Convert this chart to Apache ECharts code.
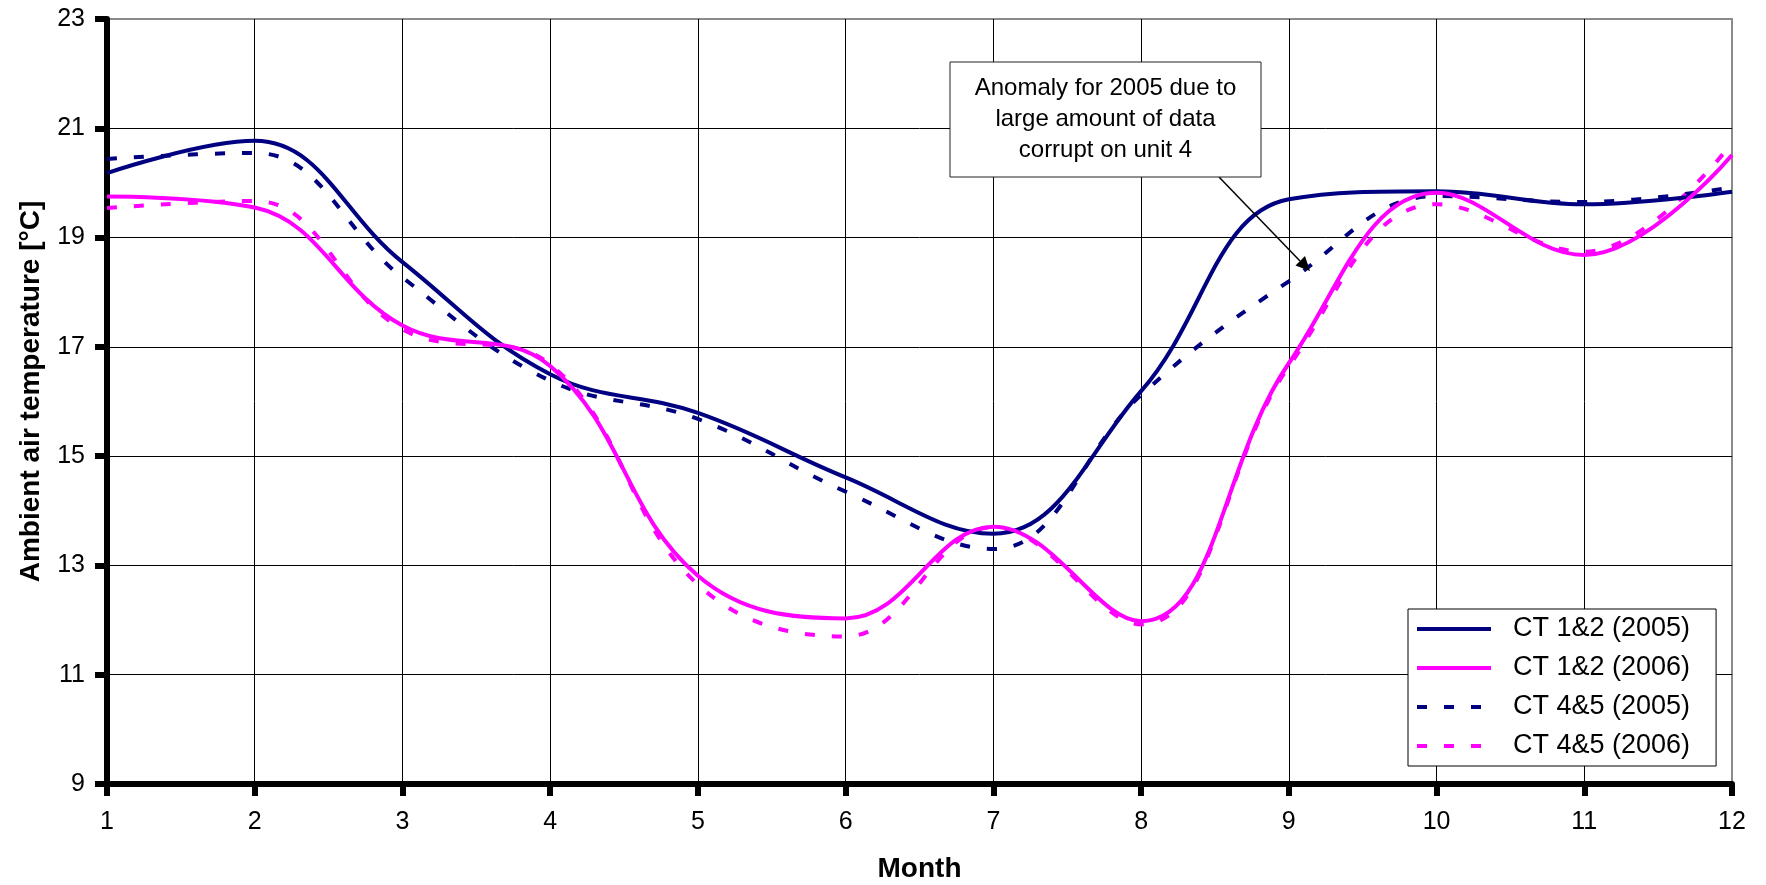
<!DOCTYPE html>
<html>
<head>
<meta charset="utf-8">
<script src="https://cdn.jsdelivr.net/npm/echarts@6/dist/echarts.min.js"></script>
<style>
html,body{margin:0;padding:0;background:#fff;}
#chart{width:1766px;height:885px;}
</style>
</head>
<body>
<div id="chart"></div>
<script>
// ---- Data ----
const months = [1, 2, 3, 4, 5, 6, 7, 8, 9, 10, 11, 12];
const ct12_2005 = [20.18, 20.77, 18.55, 16.50, 15.79, 14.61, 13.58, 16.19, 19.70, 19.85, 19.61, 19.84];
const ct12_2006 = [19.75, 19.55, 17.39, 16.65, 12.81, 12.03, 13.71, 11.98, 16.70, 19.82, 18.68, 20.51];
const ct45_2005 = [20.44, 20.55, 18.27, 16.38, 15.68, 14.35, 13.30, 16.12, 18.20, 19.76, 19.65, 19.92];
const ct45_2006 = [19.54, 19.67, 17.32, 16.68, 12.65, 11.70, 13.70, 11.92, 16.64, 19.61, 18.74, 20.73];
const seriesNames = ['CT 1&2 (2005)', 'CT 1&2 (2006)', 'CT 4&5 (2005)', 'CT 4&5 (2006)'];
const xTitle = 'Month';
const yTitle = 'Ambient air temperature [°C]';
const noteLines = ['Anomaly for 2005 due to', 'large amount of data', 'corrupt on unit 4'];

const FONT = 'Liberation Sans, Arial, Helvetica, sans-serif';
const NAVY = '#000080';
const MAGENTA = '#FF00FF';
const DASH = [10, 17];

function pts(arr) { return months.map((m, i) => [m, arr[i]]); }

function lineSeries(name, arr, color, dashed) {
  return {
    name: name,
    type: 'line',
    data: pts(arr),
    smooth: 0.4,
    symbol: 'none',
    showSymbol: false,
    silent: true,
    lineStyle: { color: color, width: 4, type: dashed ? DASH : 'solid', cap: 'butt' },
    itemStyle: { color: color },
    emphasis: { disabled: true }
  };
}

const chart = echarts.init(document.getElementById('chart'), null, { renderer: 'canvas' });

const option = {
  animation: false,
  backgroundColor: '#ffffff',
  textStyle: { fontFamily: FONT },
  grid: {
    left: 107, right: 34, top: 19, bottom: 101,
    containLabel: false,
    outerBoundsMode: 'none',
    show: true, borderColor: '#8a8a8a', borderWidth: 2, backgroundColor: 'transparent'
  },
  xAxis: {
    type: 'value',
    min: 1, max: 12, interval: 1,
    name: xTitle,
    nameLocation: 'middle',
    nameGap: 71,
    nameTextStyle: { fontSize: 28, fontWeight: 'bold', color: '#000', fontFamily: FONT },
    axisLine: { show: true, onZero: false, lineStyle: { color: '#000', width: 6 } },
    axisTick: { show: true, inside: false, length: 12, lineStyle: { color: '#000', width: 6 } },
    axisLabel: { fontSize: 25, color: '#000', margin: 26, fontFamily: FONT },
    splitLine: { show: true, showMaxLine: false, lineStyle: { color: '#000', width: 1 } }
  },
  yAxis: {
    type: 'value',
    min: 9, max: 23, interval: 2,
    name: yTitle,
    nameLocation: 'middle',
    nameRotate: 90,
    nameGap: 62,
    nameTextStyle: { fontSize: 28, fontWeight: 'bold', color: '#000', fontFamily: FONT, padding: [0, 0, 0, 20] },
    axisLine: { show: true, onZero: false, lineStyle: { color: '#000', width: 6 } },
    axisTick: { show: true, inside: false, length: 12, lineStyle: { color: '#000', width: 6 } },
    axisLabel: { fontSize: 25, color: '#000', margin: 22, fontFamily: FONT },
    splitLine: { show: true, showMaxLine: false, lineStyle: { color: '#000', width: 1 } }
  },
  legend: {
    orient: 'vertical',
    left: 1408, top: 609,
    padding: [5, 26, 5, 7],
    itemWidth: 74, itemHeight: 14, itemGap: 9,
    backgroundColor: '#ffffff', borderColor: '#000', borderWidth: 1,
    selectedMode: false,
    itemStyle: { opacity: 0, borderWidth: 0 },
    lineStyle: { width: 4 },
    textStyle: { fontSize: 27, color: '#000', fontFamily: FONT, lineHeight: 30, padding: [0, 0, 0, 17] },
    data: seriesNames
  },
  series: [
    lineSeries(seriesNames[2], ct45_2005, NAVY, true),
    lineSeries(seriesNames[3], ct45_2006, MAGENTA, true),
    lineSeries(seriesNames[0], ct12_2005, NAVY, false),
    lineSeries(seriesNames[1], ct12_2006, MAGENTA, false)
  ],
  graphic: [
    {
      type: 'line', z: 100, silent: true,
      shape: { x1: 1219, y1: 177, x2: 1300, y2: 261 },
      style: { stroke: '#000', lineWidth: 1.5 }
    },
    {
      type: 'polygon', z: 100, silent: true,
      shape: { points: [[1310, 271], [1295.5, 265.5], [1305, 256]] },
      style: { fill: '#000' }
    },
    {
      type: 'rect', z: 100, silent: true,
      shape: { x: 950, y: 62, width: 311, height: 115 },
      style: { fill: '#ffffff', stroke: '#222', lineWidth: 1 }
    },
    {
      type: 'text', z: 101, silent: true,
      x: 1105.5, y: 119,
      style: {
        text: noteLines.join('\n'),
        fontSize: 24, fontFamily: FONT, fill: '#000',
        align: 'center', verticalAlign: 'middle', lineHeight: 31
      }
    }
  ]
};

chart.setOption(option);
</script>
</body>
</html>
